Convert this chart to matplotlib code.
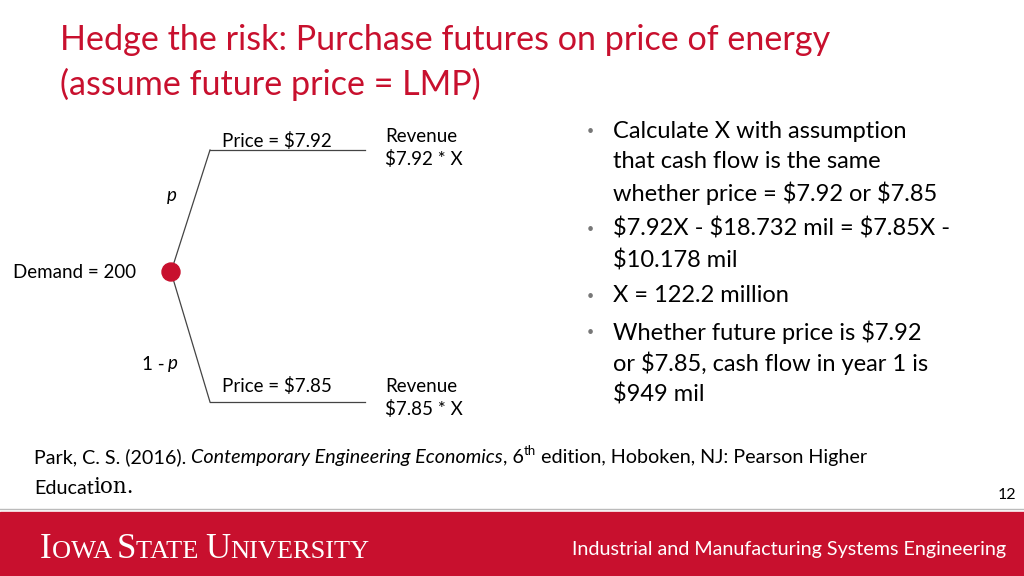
import matplotlib
matplotlib.use("Agg")
import matplotlib.pyplot as plt
from matplotlib.patches import Rectangle, Circle

RED = "#C8102E"
FONT = "Lato"

title_lines = ["Hedge the risk: Purchase futures on price of energy",
               "(assume future price = LMP)"]
bullets = [
    ["Calculate X with assumption", "that cash flow is the same", "whether price = $7.92 or $7.85"],
    ["$7.92X - $18.732 mil = $7.85X -", "$10.178 mil"],
    ["X = 122.2 million"],
    ["Whether future price is $7.92", "or $7.85, cash flow in year 1 is", "$949 mil"],
]
prices = ["Price = $7.92", "Price = $7.85"]
revenues = ["Revenue\n$7.92 * X", "Revenue\n$7.85 * X"]
probs = ["p", "1 - p"]
demand = "Demand = 200"

fig = plt.figure(figsize=(10.24, 5.76), dpi=100)
ax = fig.add_axes([0, 0, 1, 1])
ax.set_xlim(0, 1024)
ax.set_ylim(576, 0)
ax.axis("off")

# title
for i, t in enumerate(title_lines):
    ax.text(60, 40 + i * 44, t, color=RED, fontsize=24.6, family=FONT, va="center")

# decision tree
node = (171, 272)
for yb in (150, 402):
    ax.plot([node[0], 210], [node[1], yb], color="#444444", lw=0.9)
    ax.plot([210, 365], [yb, yb], color="#444444", lw=0.9)
ax.add_patch(Circle(node, 9, color=RED, zorder=5))
ax.text(136, 272, demand, fontsize=13.5, family=FONT, ha="right", va="center")
ax.text(222, 141, prices[0], fontsize=13.5, family=FONT, va="center")
ax.text(222, 386, prices[1], fontsize=13.5, family=FONT, va="center")
ax.text(385, 148, revenues[0], fontsize=13.5, family=FONT, va="center", linespacing=1.35)
ax.text(385, 398, revenues[1], fontsize=13.5, family=FONT, va="center", linespacing=1.35)
ax.text(172, 196, probs[0], fontsize=13.5, family=FONT, style="italic", ha="center", va="center")
ax.text(142, 364, "1 - ", fontsize=13.5, family=FONT, va="center")
ax.text(168, 364, "p", fontsize=13.5, family=FONT, style="italic", va="center")

# bullets
y = 131
for b in bullets:
    ax.text(587, y, "•", fontsize=9, family=FONT, color="#777777", va="center")
    for line in b:
        ax.text(613, y, line, fontsize=17, family=FONT, va="center", parse_math=False)
        y += 31
    y += 5

# reference with mixed styles
renderer = fig.canvas.get_renderer()
x = 34
yr = 457
parts = [("Park, C. S. (2016). ", "normal", 14.2, 0),
         ("Contemporary Engineering Economics", "italic", 14.2, 0),
         (", 6", "normal", 14.2, 0),
         ("th", "normal", 9.5, -6),
         (" edition, Hoboken, NJ: Pearson Higher", "normal", 14.2, 0)]
for txt, st, fs, dy in parts:
    t = ax.text(x, yr + dy, txt, fontsize=fs, style=st, family=FONT, va="center")
    x += t.get_window_extent(renderer).width
t = ax.text(34, 488, "Educat", fontsize=14.2, family=FONT, va="center")
ax.text(34 + t.get_window_extent(renderer).width, 487, "ion.", fontsize=15.5,
        family="DejaVu Serif", va="center")
ax.text(1016, 495, "12", fontsize=11.5, family=FONT, ha="right", va="center")

# footer
ax.add_patch(Rectangle((0, 512), 1024, 64, color=RED))
ax.plot([0, 1024], [509, 509], color="#BBBBBB", lw=1)
x = 40
segs = [("I", 25), ("OWA ", 19), ("S", 25), ("TATE ", 19), ("U", 25), ("NIVERSITY", 19)]
for txt, fs in segs:
    t = ax.text(x, 558, txt, fontsize=fs, family="Liberation Serif", color="white", va="baseline")
    x += t.get_window_extent(renderer).width
ax.text(1006, 550, "Industrial and Manufacturing Systems Engineering",
        fontsize=14.2, family=FONT, color="white", ha="right", va="center")

fig.savefig("out.png", dpi=100)
